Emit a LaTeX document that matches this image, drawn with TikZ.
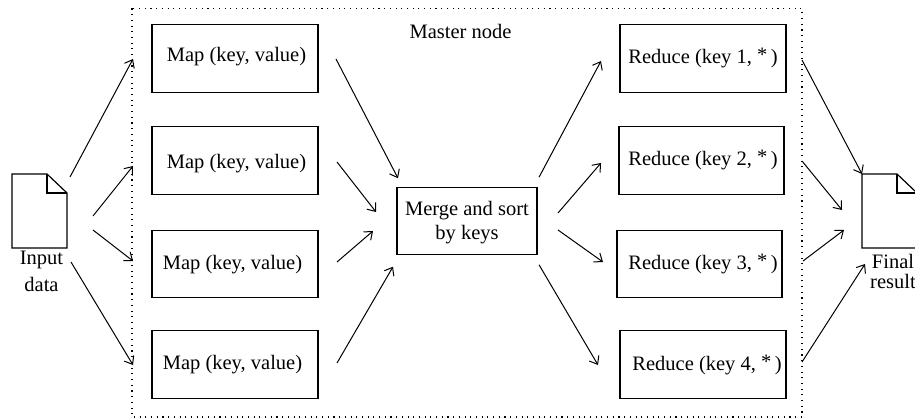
\documentclass[tikz,border=0pt]{standalone}
\usepackage{fontspec}
\setmainfont{Liberation Serif}
\usetikzlibrary{arrows.meta}
\tikzset{
  x=1pt,y=-1pt,
  boxn/.style={draw,line width=1.1pt,minimum width=#1,minimum height=67.5pt,inner sep=0pt,outer sep=0pt},
  docn/.style={minimum width=55pt,minimum height=74pt,inner sep=0pt,outer sep=0pt},
  lbl/.style={inner sep=0pt,font=\fontsize{20.5}{24}\selectfont},
  arr/.style={line width=1pt,-{Straight Barb[length=7pt,width=11pt,line width=1pt]}},
  docline/.style={line width=1.2pt,line join=miter},
}
\newcommand{\docshape}[1]{%
  \draw[docline] (#1.south west) -- (#1.north west) -- ([xshift=35pt]#1.north west)
    -- ([yshift=-19pt]#1.north east) -- (#1.south east) -- cycle;
  \draw[docline] ([xshift=35pt]#1.north west) -- ([xshift=35pt,yshift=-19pt]#1.north west)
    -- ([yshift=-19pt]#1.north east);
}
\newcommand{\st}{\raisebox{2.5pt}{*}\,}
\begin{document}
\begin{tikzpicture}
\useasboundingbox (0,0) rectangle (915,419);
\draw[line width=1.1pt,dash pattern=on 1.1pt off 4.6pt] (132,8.5) rectangle (802,417);
\node[lbl] (master) at (460.5,31) {Master node};

\node[docn] (input) at (39.5,211) {};
\docshape{input}
\node[lbl] (inlab) at (41.5,260) {Input};
\node[lbl] (inlab2) at (41.5,284) {data};

\node[docn] (final) at (889.5,211) {};
\docshape{final}
\node[lbl] (finlab) at (893,261.5) {Final};
\node[lbl] (finlab2) at (893,281) {result};

\node[boxn=166pt] (map1) at (235,58.5) {};
\node[boxn=166pt] (map2) at (235,160.5) {};
\node[boxn=166pt] (map3) at (235,264) {};
\node[boxn=166pt] (map4) at (235,364.5) {};
\node[lbl] at (236.5,56.5) {Map (key, value)};
\node[lbl] at (236.5,163.5) {Map (key, value)};
\node[lbl] at (232.5,264.5) {Map (key, value)};
\node[lbl] at (232.5,364.5) {Map (key, value)};

\node[boxn=140pt,align=center,lbl,inner sep=0pt] (merge) at (467,221) {\rule{0pt}{18pt}Merge and sort\\by keys};

\node[boxn=166pt] (red1) at (703,58.5) {};
\node[boxn=165pt] (red2) at (701.5,160.5) {};
\node[boxn=165pt] (red3) at (699.5,264) {};
\node[boxn=166pt] (red4) at (703,364.5) {};
\node[lbl] at (703,58) {Reduce (key 1, \st)};
\node[lbl] at (703,160) {Reduce (key 2, \st)};
\node[lbl] at (703,264) {Reduce (key 3, \st)};
\node[lbl] at (707,365) {Reduce (key 4, \st)};

\draw[arr] ([shift={(3,-34)}]input.east) -- ([shift={(-19,0.5)}]map1.west);
\draw[arr] ([shift={(26,5)}]input.east) -- ([shift={(-19,5.5)}]map2.west);
\draw[arr] ([shift={(26,19)}]input.east) -- ([shift={(-19,-3)}]map3.west);
\draw[arr] ([shift={(4,51)}]input.east) -- ([shift={(-19,0.5)}]map4.west);

\draw[arr] ([shift={(18,0.5)}]map1.east) -- ([shift={(1,-9)}]merge.north west);
\draw[arr] ([shift={(19,1.5)}]map2.east) -- ([shift={(-21,-9)}]merge.west);
\draw[arr] ([shift={(19,-2)}]map3.east) -- ([shift={(-24,10)}]merge.west);
\draw[arr] ([shift={(19,-1.5)}]map4.east) -- ([shift={(-4,12)}]merge.south west);

\draw[arr] ([shift={(2,-10)}]merge.north east) -- ([shift={(-19,2.5)}]red1.west);
\draw[arr] ([shift={(21,-8)}]merge.east) -- ([shift={(-18,2.5)}]red2.west);
\draw[arr] ([shift={(21,9)}]merge.east) -- ([shift={(-14,-2)}]red3.west);
\draw[arr] ([shift={(2,10)}]merge.south east) -- ([shift={(-22,0.5)}]red4.west);

\draw[arr] ([shift={(16,1.5)}]red1.east) -- (final.north west);
\draw[arr] ([shift={(18,0.5)}]red2.east) -- ([shift={(-20,-1)}]final.west);
\draw[arr] ([shift={(21,-3)}]red3.east) -- ([shift={(-18,19)}]final.west);
\draw[arr] ([shift={(16,-2.5)}]red4.east) -- ([shift={(3,16)}]final.south west);
\end{tikzpicture}
\end{document}
